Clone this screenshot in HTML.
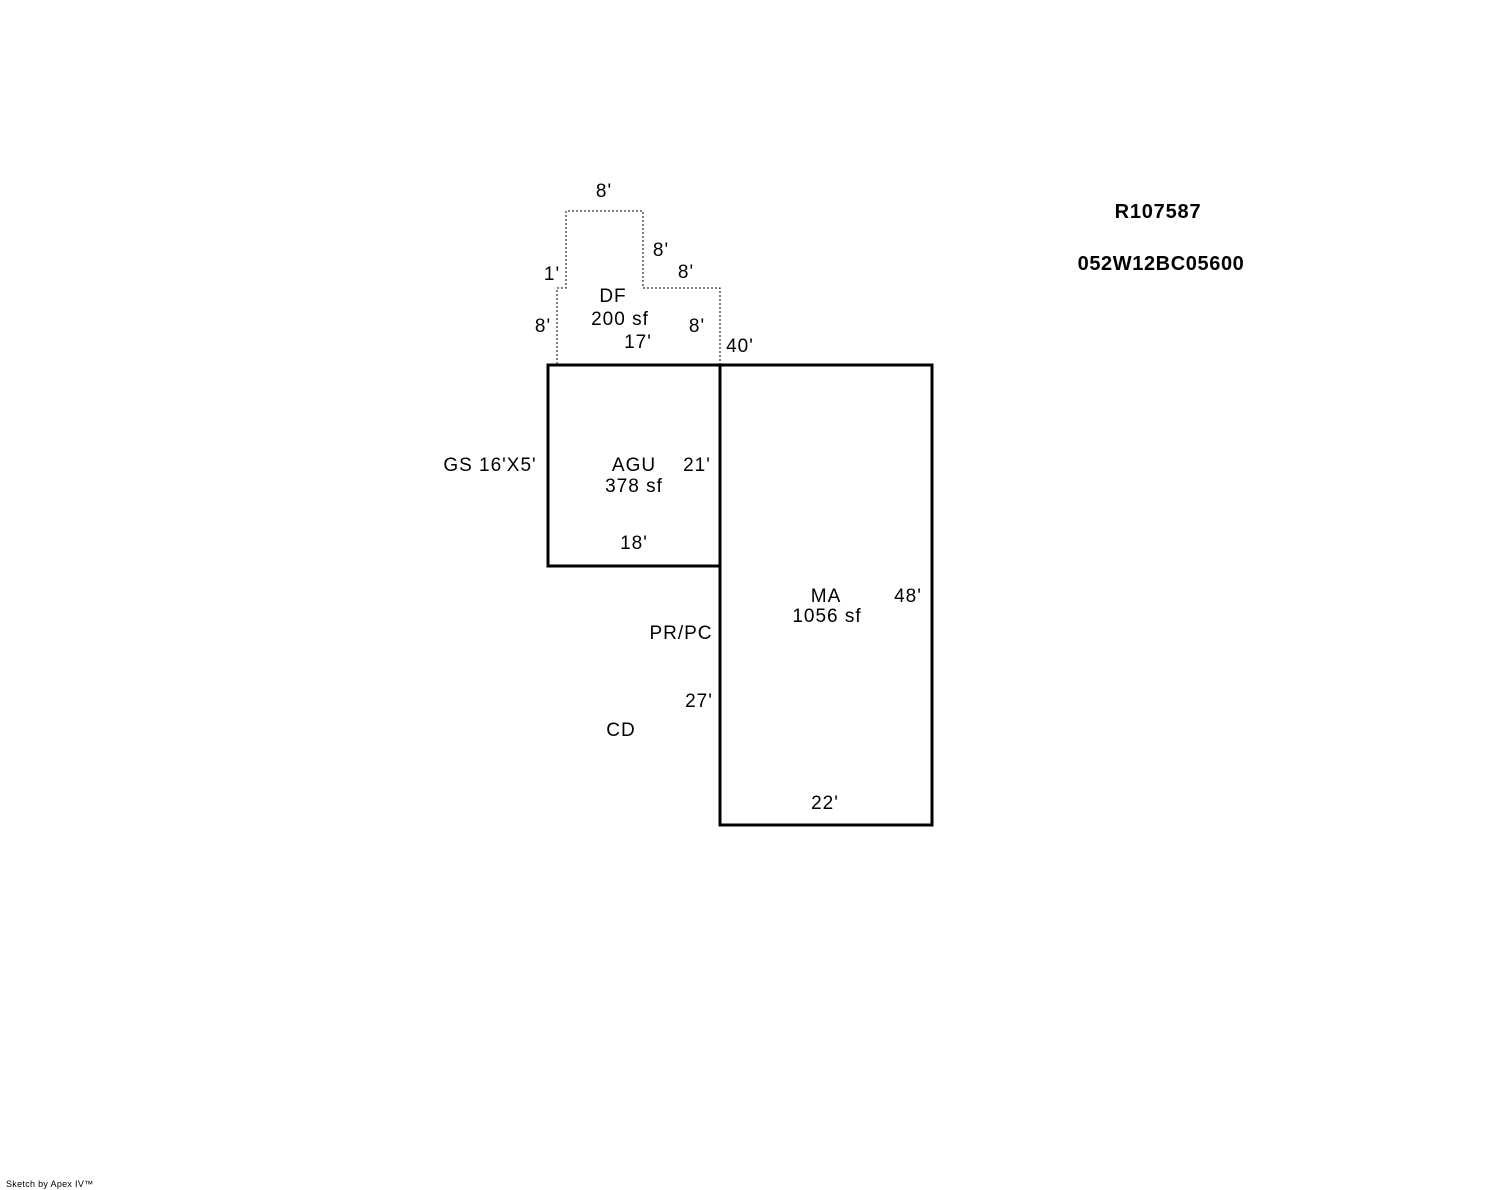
<!DOCTYPE html>
<html><head><style>body{margin:0;background:#fff}svg{display:block}</style></head><body>
<svg width="1488" height="1190" viewBox="0 0 1488 1190" xmlns="http://www.w3.org/2000/svg" font-family="Liberation Sans, Arial, sans-serif" font-size="19" letter-spacing="1" fill="#000">
<path d="M557,364 V288 H566 V211 H643 V288 H720 V364" fill="none" stroke="#000" stroke-width="1" stroke-dasharray="2,2"/>
<rect x="548" y="365" width="172" height="201" fill="none" stroke="#000" stroke-width="3"/>
<rect x="720" y="365" width="212" height="460" fill="none" stroke="#000" stroke-width="3"/>
<g text-anchor="middle">
<text x="604" y="197">8'</text>
<text x="661" y="256">8'</text>
<text x="552" y="280">1'</text>
<text x="686" y="278">8'</text>
<text x="613" y="302">DF</text>
<text x="620" y="325">200 sf</text>
<text x="543" y="332">8'</text>
<text x="697" y="332">8'</text>
<text x="638" y="348">17'</text>
<text x="740" y="352">40'</text>
<text x="490" y="471">GS 16'X5'</text>
<text x="634" y="471">AGU</text>
<text x="697" y="471">21'</text>
<text x="634" y="492">378 sf</text>
<text x="634" y="549">18'</text>
<text x="826" y="602">MA</text>
<text x="908" y="602">48'</text>
<text x="827" y="622">1056 sf</text>
<text x="681" y="639">PR/PC</text>
<text x="699" y="707">27'</text>
<text x="621" y="736">CD</text>
<text x="825" y="809">22'</text>
<text x="1158" y="218" font-weight="bold" font-size="20" letter-spacing="0.8">R107587</text>
<text x="1161" y="270" font-weight="bold" font-size="20" letter-spacing="0.6">052W12BC05600</text>
</g>
<text x="6" y="1187" font-size="9" letter-spacing="0.3">Sketch by Apex IV™</text>
</svg>
</body></html>
